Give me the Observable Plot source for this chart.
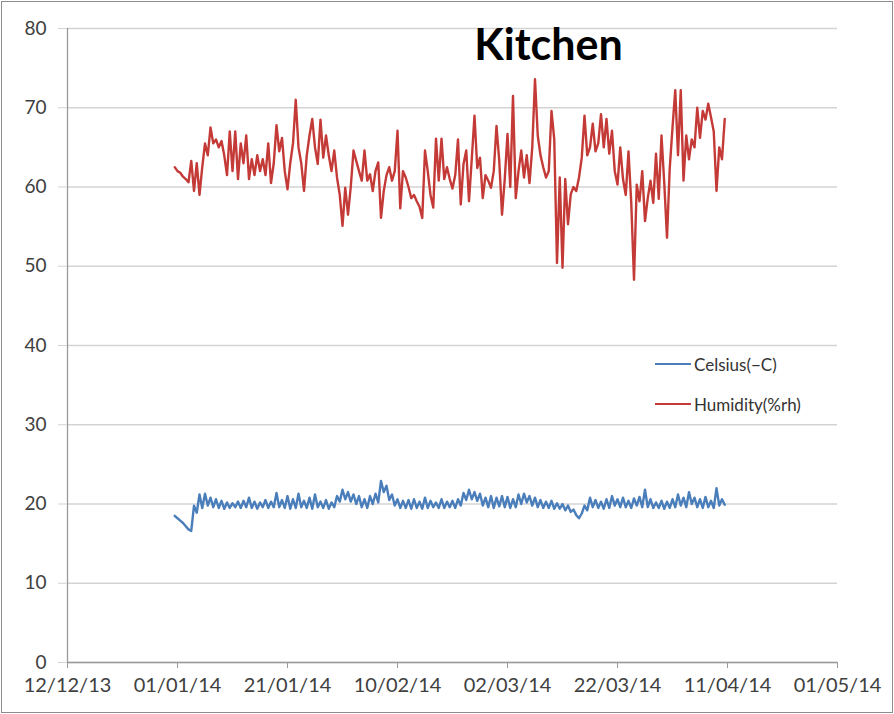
<!DOCTYPE html>
<html>
<head>
<meta charset="utf-8">
<script src="https://cdn.jsdelivr.net/npm/d3@7"></script>
<script src="https://cdn.jsdelivr.net/npm/@observablehq/plot@0.6"></script>
<style>
  html, body { margin: 0; padding: 0; background: #fff; }
  #wrap { position: relative; width: 894px; height: 714px; overflow: hidden; }
  #frame { position: absolute; left: 1px; top: 1px; width: 890px; height: 710px; border: 1px solid #8c8c8c; pointer-events: none; }
  #legend { position: absolute; left: 655px; top: 344px; font-family: Lato, "Open Sans", sans-serif; font-size: 17px; color: #333; }
  #legend .row { display: flex; align-items: center; height: 40px; }
  #legend svg { margin-right: 3px; }
</style>
</head>
<body>
<div id="wrap">
  <div id="chart"></div>
  <div id="legend"></div>
  <div id="frame"></div>
</div>
<script>
// ---- data ----
const chartTitle = "Kitchen";
const seriesNames = ["Celsius(\u2212C)", "Humidity(%rh)"];
const seriesColors = ["#4A7EBB", "#C43A37"];
const sampleStart = "2013-12-31T12:00Z";
const sampleStepHours = 12;
const xDomain = ["2013-12-12", "2014-05-01"];
const xTickDates = ["2013-12-12", "2014-01-01", "2014-01-21", "2014-02-10", "2014-03-02", "2014-03-22", "2014-04-11", "2014-05-01"];
const yTicks = [0, 10, 20, 30, 40, 50, 60, 70, 80];

const humidity = [
62.5,62.0,61.8,61.3,61.0,60.6,63.3,59.5,63.0,59.0,
62.5,65.5,64.0,67.5,65.5,66.0,65.0,65.8,64.0,61.5,
67.0,62.0,67.0,61.0,65.5,63.0,66.5,61.0,63.5,61.5,
64.0,62.0,63.5,61.5,65.5,60.5,63.0,67.8,64.5,66.2,
62.0,59.7,63.0,65.5,71.0,65.0,63.0,59.5,64.0,66.5,
68.6,65.0,62.9,68.5,63.7,66.5,64.0,62.0,64.6,61.2,
59.0,55.1,59.9,56.5,60.0,64.6,63.3,62.0,60.8,64.6,
60.8,61.6,59.5,62.0,63.1,56.1,59.5,61.5,62.5,60.8,
62.0,67.1,57.3,62.0,61.2,60.0,58.6,59.0,58.2,57.5,
56.1,64.6,62.0,59.0,57.4,66.1,60.8,66.1,61.0,62.5,
61.0,59.8,61.5,66.0,57.8,62.9,64.6,58.2,63.5,69.0,
62.4,63.7,58.6,61.5,60.8,59.9,62.0,67.7,63.3,56.5,
61.0,66.7,60.0,71.5,58.6,62.0,64.6,61.2,64.0,60.5,
65.0,73.6,66.5,64.0,62.5,61.2,62.0,69.6,66.0,50.4,
61.2,49.8,61.0,55.3,59.1,60.0,59.5,61.2,63.7,69.0,
64.0,65.0,68.0,64.5,65.5,69.2,65.0,68.6,64.2,67.1,
62.0,60.3,65.0,61.0,59.0,64.5,58.0,48.3,60.3,58.2,
62.0,55.7,58.6,60.8,58.0,64.2,58.5,66.5,60.5,53.6,
62.4,67.5,72.2,64.0,72.2,60.8,66.5,63.5,66.0,65.0,
70.0,66.2,69.6,68.5,70.5,68.8,67.0,59.5,65.0,63.5,
68.6
];

const celsius = [
18.5,18.2,17.9,17.6,17.2,16.8,16.6,19.8,18.9,21.2,
19.5,21.3,19.8,20.8,19.6,20.6,19.5,20.4,19.4,20.2,
19.5,20.1,19.6,20.3,19.5,20.4,19.6,20.8,19.5,20.3,
19.4,20.2,19.6,20.5,19.5,20.3,19.6,21.4,19.6,20.5,
19.5,21.0,19.4,20.6,19.5,21.3,19.6,20.4,19.5,20.8,
19.4,21.2,19.6,20.3,19.5,20.5,19.4,20.2,19.6,21.0,
20.3,21.8,20.6,21.5,20.3,21.2,20.0,21.0,19.6,20.6,
19.5,21.0,20.0,21.3,20.2,22.9,21.5,22.3,20.5,21.2,
19.8,20.6,19.5,20.4,19.5,20.5,19.4,20.6,19.5,20.3,
19.4,20.8,19.5,20.4,19.6,20.2,19.5,20.6,19.5,20.3,
19.6,20.4,19.5,20.6,19.8,21.4,20.5,21.8,20.6,21.5,
20.4,21.3,19.8,20.8,19.6,21.0,19.5,20.8,19.7,21.0,
19.6,20.9,19.5,20.6,19.6,21.2,20.0,21.3,20.2,21.0,
19.8,20.8,19.6,20.5,19.5,20.3,19.5,20.4,19.4,20.1,
19.4,20.0,19.2,19.8,19.0,19.3,18.6,18.2,18.8,19.8,
19.2,20.8,19.6,20.5,19.5,20.3,19.4,20.6,19.5,21.0,
19.8,20.6,19.6,20.8,19.6,20.4,19.5,20.7,19.8,20.9,
19.6,21.8,19.6,20.6,19.5,20.2,19.5,20.4,19.4,20.3,
19.5,20.6,19.6,21.2,19.8,20.8,19.6,21.5,20.0,20.8,
19.6,20.6,19.5,20.9,19.6,20.4,19.5,22.0,19.8,20.6,
19.9
];

// ---- build table ----
const t0 = new Date(sampleStart);
const toRows = (vals, name) => vals.map((v, i) => ({date: d3.utcHour.offset(t0, i * sampleStepHours), value: v, series: name}));
const rowsC = toRows(celsius, seriesNames[0]);
const rowsH = toRows(humidity, seriesNames[1]);
const fmt = d3.utcFormat("%d/%m/%y");
const gridColor = "#d3d3d3";
const axisColor = "#9a9a9a";

const chart = Plot.plot({
  width: 894,
  height: 714,
  marginLeft: 67,
  marginRight: 57,
  marginTop: 28,
  marginBottom: 52,
  style: {fontFamily: "Lato, 'Open Sans', sans-serif", fontSize: "19px", color: "#404040", background: "#fff"},
  x: {type: "utc", domain: xDomain.map(d => new Date(d))},
  y: {domain: [yTicks[0], yTicks[yTicks.length - 1]]},
  marks: [
    Plot.ruleY(yTicks, {stroke: gridColor, strokeWidth: 1.3}),
    Plot.ruleX([new Date(xDomain[0])], {stroke: axisColor, strokeWidth: 1.3}),
    Plot.ruleY([0], {stroke: axisColor, strokeWidth: 1.3}),
    Plot.axisY({ticks: yTicks, tickSize: 9, tickPadding: 12, stroke: gridColor, label: null, fontSize: 19}),
    Plot.axisX({ticks: xTickDates.map(d => new Date(d)), tickFormat: fmt, tickSize: 6, tickPadding: 9, stroke: axisColor, label: null, fontSize: 20}),
    Plot.lineY(rowsH, {x: "date", y: "value", stroke: seriesColors[1], strokeWidth: 2.4}),
    Plot.lineY(rowsC, {x: "date", y: "value", stroke: seriesColors[0], strokeWidth: 2.4}),
    Plot.text([chartTitle], {frameAnchor: "top", dx: 96, dy: 1, fontSize: 43, fontWeight: "bold", fill: "#000"})
  ]
});
document.getElementById("chart").appendChild(chart);

// legend
const legend = document.getElementById("legend");
seriesNames.forEach((name, i) => {
  const row = document.createElement("div");
  row.className = "row";
  row.innerHTML = `<svg width="36" height="4"><line x1="0" x2="36" y1="2" y2="2" stroke="${seriesColors[i]}" stroke-width="2"/></svg><span>${name}</span>`;
  legend.appendChild(row);
});
</script>
</body>
</html>
